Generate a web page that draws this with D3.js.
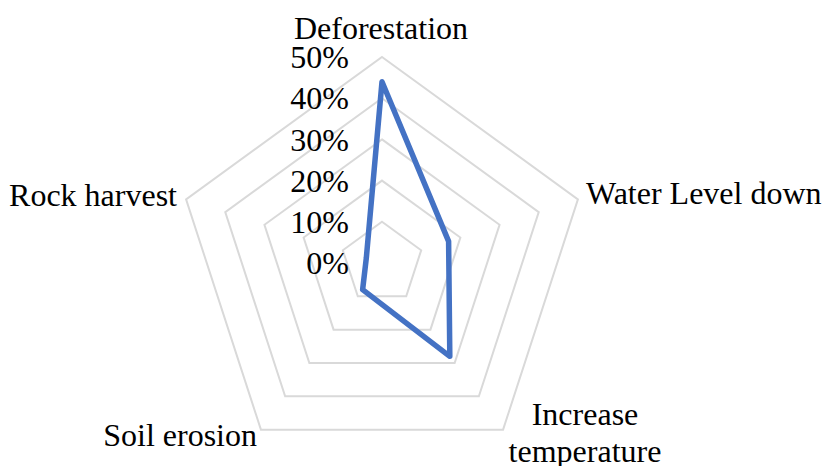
<!DOCTYPE html>
<html>
<head>
<meta charset="utf-8">
<script src="https://cdn.jsdelivr.net/npm/d3@7"></script>
<style>
  html, body { margin: 0; padding: 0; background: #fff; }
  svg { display: block; }
  svg text { font-family: "Liberation Serif", serif !important; }
</style>
</head>
<body>
<svg id="chart" width="828" height="466" font-family="Liberation Serif"></svg>
<script>
// Environmental impacts, share of responses
const categories = ["Deforestation", "Water Level down", "Increase temperature", "Soil erosion", "Rock harvest"];
const values = [0.44, 0.17, 0.28, 0.08, 0.04];
const tickValues = [0, 0.1, 0.2, 0.3, 0.4, 0.5];
const tickLabels = ["0%", "10%", "20%", "30%", "40%", "50%"];

const serifFamily = '"Liberation Serif"';
const cx = 382, cy = 263;
const svg = d3.select("#chart");

const r = d3.scaleLinear().domain([0, 0.5]).range([0, 206]);
const angle = d3.scalePoint().domain(categories.concat("__end")).range([0, 2 * Math.PI]);

const g = svg.append("g").attr("transform", `translate(${cx},${cy})`);

const radial = d3.lineRadial()
  .angle(d => angle(d.cat))
  .radius(d => r(d.v))
  .curve(d3.curveLinearClosed);

// Grid rings
g.selectAll("path.ring")
  .data(tickValues.filter(t => t > 0))
  .join("path")
  .attr("class", "ring")
  .attr("d", t => radial(categories.map(c => ({ cat: c, v: t }))))
  .attr("fill", "none")
  .attr("stroke", "#d9d9d9")
  .attr("stroke-width", 2);

// Data polygon
g.append("path")
  .attr("d", radial(categories.map((c, i) => ({ cat: c, v: values[i] }))))
  .attr("fill", "none")
  .attr("stroke", "#4472c4")
  .attr("stroke-width", 5.5)
  .attr("stroke-linejoin", "round");

// Radial tick labels
g.selectAll("text.tick")
  .data(tickValues)
  .join("text")
  .attr("class", "tick")
  .attr("x", -33)
  .attr("y", t => -r(t))
  .attr("dy", "0.35em")
  .attr("text-anchor", "end")
  .style("font-family", serifFamily)
  .style("font-size", "32px")
  .style("fill", "#000")
  .text((t, i) => tickLabels[i]);

// Category labels
const catLayout = {
  "Deforestation":        { x: 381, y: 39,  anchor: "middle", lines: ["Deforestation"] },
  "Water Level down":     { x: 586, y: 204, anchor: "start",  lines: ["Water Level down"] },
  "Increase temperature": { x: 585, y: 425, anchor: "middle", lines: ["Increase", "temperature"] },
  "Soil erosion":         { x: 257, y: 446, anchor: "end",    lines: ["Soil erosion"] },
  "Rock harvest":         { x: 177, y: 206, anchor: "end",    lines: ["Rock harvest"] }
};

categories.forEach(c => {
  const L = catLayout[c];
  const t = svg.append("text")
    .attr("x", L.x)
    .attr("y", L.y)
    .attr("text-anchor", L.anchor)
    .style("font-family", serifFamily)
    .style("font-size", "32px")
    .style("fill", "#000");
  L.lines.forEach((ln, i) => {
    t.append("tspan").attr("x", L.x).attr("dy", i === 0 ? 0 : 37).text(ln);
  });
});
</script>
</body>
</html>
